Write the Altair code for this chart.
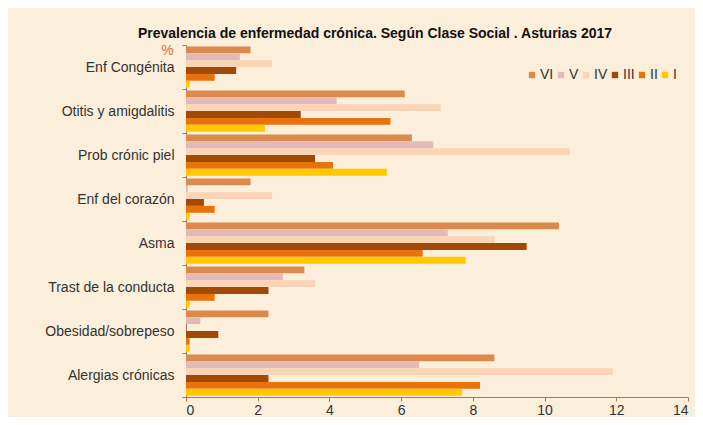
import altair as alt
import pandas as pd

categories = ["Enf Congénita", "Otitis y amigdalitis", "Prob crónic piel", "Enf del corazón",
              "Asma", "Trast de la conducta", "Obesidad/sobrepeso", "Alergias crónicas"]
series = ["VI", "V", "IV", "III", "II", "I"]
colors = ["#DB8A4D", "#E3B9B9", "#F9D4B6", "#A04A08", "#E8720C", "#FFC800"]

vals_VI = [1.8, 6.1, 6.3, 1.8, 10.4, 3.3, 2.3, 8.6]
vals_V = [1.5, 4.2, 6.9, 0.05, 7.3, 2.7, 0.4, 6.5]
vals_IV = [2.4, 7.1, 10.7, 2.4, 8.6, 3.6, 0.0, 11.9]
vals_III = [1.4, 3.2, 3.6, 0.5, 9.5, 2.3, 0.9, 2.3]
vals_II = [0.8, 5.7, 4.1, 0.8, 6.6, 0.8, 0.1, 8.2]
vals_I = [0.1, 2.2, 5.6, 0.1, 7.8, 0.1, 0.1, 7.7]

x_ticks = [0, 2, 4, 6, 8, 10, 12, 14]

all_vals = [vals_VI, vals_V, vals_IV, vals_III, vals_II, vals_I]
rows = []
for s, vs in zip(series, all_vals):
    for c, v in zip(categories, vs):
        rows.append({"category": c, "series": s, "value": v})
df = pd.DataFrame(rows)

axis_col = "#B07850"
label_col = "#333333"

chart = alt.Chart(df).mark_bar().encode(
    x=alt.X("value:Q",
            scale=alt.Scale(domain=[0, 14], nice=False, zero=True),
            axis=alt.Axis(values=x_ticks, grid=False, title=None, format="d",
                          labelFont="Liberation Sans", labelFontSize=14, labelColor=label_col,
                          domainColor=axis_col, tickColor=axis_col, tickSize=4, labelPadding=2)),
    y=alt.Y("category:N", sort=categories,
            scale=alt.Scale(paddingInner=0, paddingOuter=0),
            axis=alt.Axis(title="%", titleAngle=0, titleX=-19, titleY=5, titleAlign="center",
                          titleBaseline="middle", titleFont="Liberation Sans", titleFontSize=14,
                          titleFontWeight="normal", titleColor="#D9703A",
                          tickBand="extent", grid=False,
                          labelFont="Liberation Sans", labelFontSize=14, labelColor=label_col,
                          labelPadding=8, domainColor=axis_col, tickColor=axis_col, tickSize=4)),
    yOffset=alt.YOffset("series:N", sort=series,
                        scale=alt.Scale(paddingInner=0, paddingOuter=0.2)),
    color=alt.Color("series:N", sort=series,
                    scale=alt.Scale(domain=series, range=colors),
                    legend=alt.Legend(orient="none", legendX=339, legendY=23, direction="horizontal",
                                      title=None, symbolType="square", symbolSize=40,
                                      symbolStrokeWidth=0,
                                      labelFont="Liberation Sans", labelFontSize=14,
                                      labelColor=label_col, labelOffset=1, columnPadding=-12)),
).properties(
    width=502,
    height=352,
    autosize="none",
    padding={"left": 178, "top": 37, "right": 7, "bottom": 20},
    background="#FBEEDA",
    title=alt.TitleParams(
        "Prevalencia de enfermedad crónica. Según Clase Social . Asturias 2017",
        font="Liberation Sans", fontSize=14, fontWeight="bold", color="#111111",
        anchor="middle", dx=-62, offset=-3),
).configure_view(stroke=None)

chart.save("out.html", embed_options={"renderer": "svg", "actions": False})
